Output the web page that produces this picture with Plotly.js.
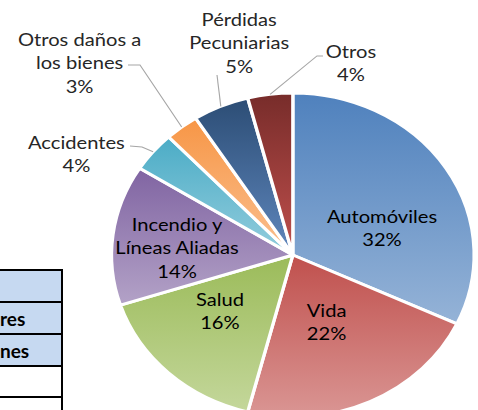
<!DOCTYPE html>
<html><head><meta charset="utf-8">
<script src="https://cdn.plot.ly/plotly-3.0.1.min.js"></script>
<style>
html,body{margin:0;padding:0;width:478px;height:410px;overflow:hidden;background:#fff;}
#wrap{position:absolute;left:0;top:0;width:427px;height:430px;transform:scaleX(1.1194);transform-origin:0 0;}
#chart{width:427px;height:430px;}
.row{position:absolute;left:-10px;width:73px;box-sizing:border-box;border-top:2px solid #000;border-right:2px solid #000;
 font-family:Lato,"Open Sans",sans-serif;font-weight:bold;font-size:19px;color:#000;padding-left:10px;overflow:hidden;white-space:nowrap;}
.blue{background:#C6D9F1;}
</style></head>
<body>
<div id="wrap"><div id="chart"></div></div>
<div class="row blue" style="top:269px;height:34px;"></div>
<div class="row blue" style="top:301px;height:34px;line-height:32px;">res</div>
<div class="row blue" style="top:333px;height:34px;line-height:32px;">nes</div>
<div class="row" style="top:365px;height:33px;"></div>
<div class="row" style="top:396px;height:30px;"></div>
<script>
const labels = ['Automóviles','Vida','Salud','Incendio y<br>Líneas Aliadas','Accidentes','Otros daños a<br>los bienes','Pérdidas<br>Pecuniarias','Otros'];
const values = [32,22,16,14,4,3,5,4];
const topColors = ['#4F81BD','#C0504D','#9BBB59','#8064A2','#4BACC6','#F79646','#2C4D75','#772C2A'];
const bottomColors = ['#95B3D7','#DA9694','#C4D79B','#B3A2C7','#93CDDD','#FAC090','#5F87BD','#C0504D'];

const W = 427, H = 430, S = 478/427;
const cxPx = 261.6, cyPx = 255, rPx = 162;
const px = x => x / S / W;          // reference (stretched) px -> paper x
const py = y => 1 - y / H;          // px -> paper y

// label anchors (reference px); outside labels also get leader-line bends
const labelPos = {
  0: {x: 382, y: 228, color:'#000'},
  1: {x: 327, y: 321, color:'#000'},
  2: {x: 220, y: 310, color:'#000'},
  3: {x: 177, y: 247, color:'#000'},
  4: {x: 77,  y: 153, color:'#262626', path: [[142,147],[130,146]]},
  5: {x: 80,  y: 62,  color:'#262626', path: [[140,65],[128,65]]},
  6: {x: 240, y: 43,  color:'#262626', path: [[217,75]]},
  7: {x: 351, y: 62,  color:'#262626', path: [[317,56],[323,56]]}
};

const total = values.reduce((a,b)=>a+b,0);
const annotations = [], shapes = [];
let cum = 0;
values.forEach((v,i) => {
  const mid = (cum + v/2) / total * 2 * Math.PI;
  cum += v;
  const o = labelPos[i];
  if (o.path) {
    const ex = (cxPx + rPx*Math.sin(mid)) / W;
    const ey = 1 - (cyPx - rPx*Math.cos(mid)) / H;
    let d = 'M' + ex + ',' + ey;
    o.path.forEach(p => { d += ' L' + px(p[0]) + ',' + py(p[1]); });
    shapes.push({type:'path', xref:'paper', yref:'paper', path:d, line:{color:'#A6A6A6', width:1}});
  }
  annotations.push({xref:'paper', yref:'paper', x:px(o.x), y:py(o.y), xanchor:'center', yanchor:'middle',
    showarrow:false, align:'center', text: labels[i] + '<br>' + Math.round(v/total*100) + '%',
    font:{family:'Lato, Open Sans, sans-serif', size:18, color:o.color}});
});

const data = [{
  type:'pie', labels: labels, values: values, sort:false, direction:'clockwise', rotation:0,
  textinfo:'none',
  marker:{colors: topColors, line:{color:'#FFFFFF', width:3}},
  domain:{x:[(cxPx-rPx)/W, (cxPx+rPx)/W], y:[1-(cyPx+rPx)/H, 1-(cyPx-rPx)/H]},
  hoverinfo:'none'
}];
const layout = {width:W, height:H, margin:{l:0,r:0,t:0,b:0}, showlegend:false,
  paper_bgcolor:'#fff', annotations: annotations, shapes: shapes};

Plotly.newPlot('chart', data, layout, {staticPlot:true, displayModeBar:false}).then(() => {
  const svg = document.querySelector('#chart .main-svg');
  let defs = svg.querySelector('defs');
  const NS = 'http://www.w3.org/2000/svg';
  topColors.forEach((c,i) => {
    const g = document.createElementNS(NS,'linearGradient');
    g.setAttribute('id','sg'+i); g.setAttribute('x1','0'); g.setAttribute('y1','0');
    g.setAttribute('x2','0'); g.setAttribute('y2','1');
    [[0,c],[1,bottomColors[i]]].forEach(s => {
      const st = document.createElementNS(NS,'stop');
      st.setAttribute('offset', s[0]); st.setAttribute('stop-color', s[1]);
      g.appendChild(st);
    });
    defs.appendChild(g);
  });
  document.querySelectorAll('#chart g.slice').forEach((sl,i) => {
    const p = sl.querySelector('path.surface');
    if (p) p.style.fill = 'url(#sg'+i+')';
  });
});
</script>
</body></html>
